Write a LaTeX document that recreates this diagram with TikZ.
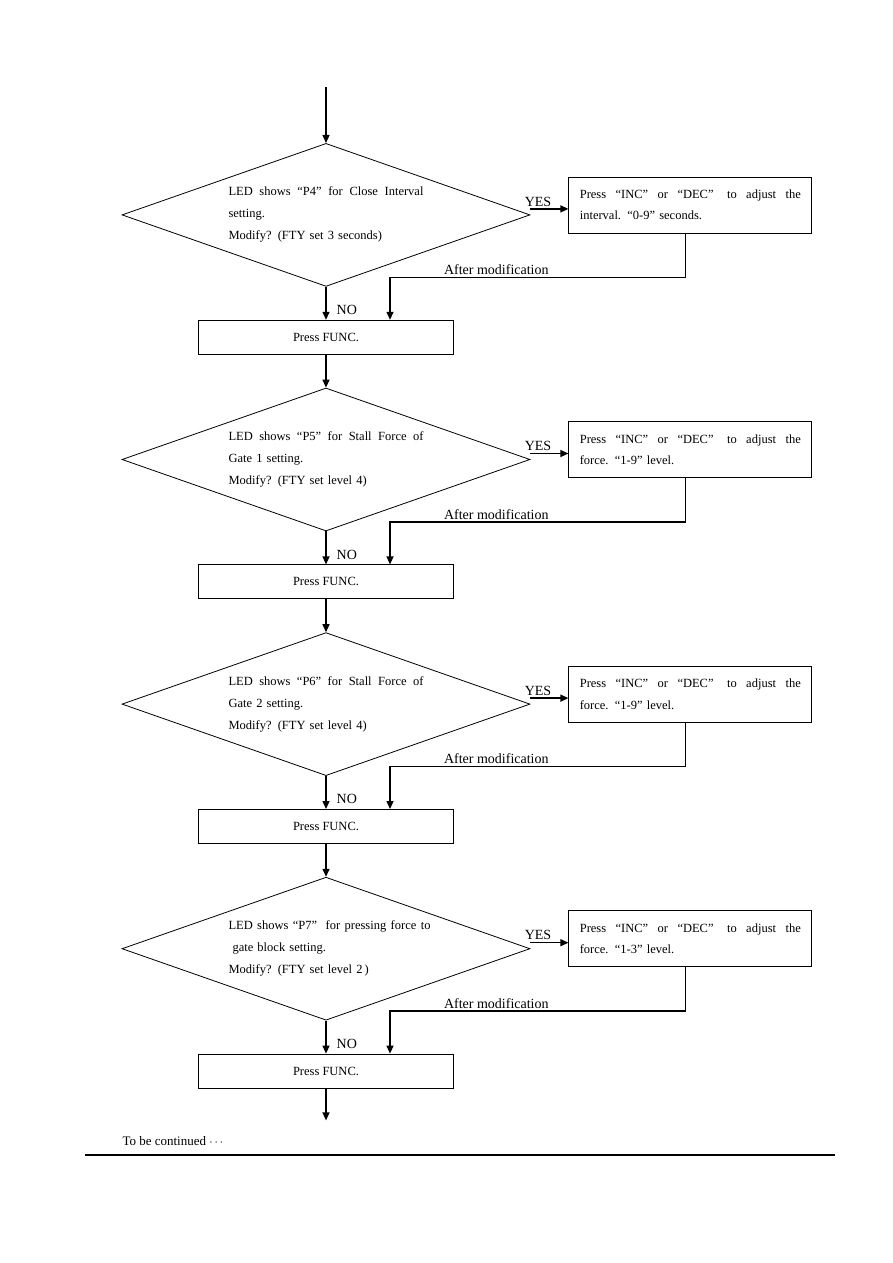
\documentclass[tikz,border=0pt]{standalone}
\usepackage{fontspec}
\setmainfont{Liberation Serif}
\usepackage{tikz}
\usetikzlibrary{
  shapes.geometric,
  arrows.meta,
  positioning, calc
}
% one line spread out to a given width
\newcommand{\fullline}[2]{\hbox to #1{\spaceskip=0.25em plus 1fil\xspaceskip=0.25em plus 1fil\relax #2}}
\tikzset{
  % Decision diamond
  decision/.style={
    diamond, draw=black, line width=0.8pt,
    aspect=2.85, inner sep=0pt,
    minimum width=408pt, minimum height=143pt,
    text width=195pt, align=left,
    font=\fontsize{12.5}{22}\selectfont
  },
  % Adjust box on the right
  adjbox/.style={
    rectangle, draw=black, line width=0.8pt,
    minimum width=243pt, minimum height=56pt,
    text width=221pt, align=left, inner sep=0pt,
    font=\fontsize{12.5}{21.5}\selectfont
  },
  % Press FUNC box
  funcbox/.style={
    rectangle, draw=black, line width=0.8pt,
    minimum width=255pt, minimum height=34pt,
    font=\fontsize{12.5}{14}\selectfont
  },
  % Arrows
  arr/.style={-{Triangle[length=8pt,width=7pt]}, line width=1.3pt},
  % Edge label
  flabel/.style={font=\fontsize{14}{16}\selectfont, inner sep=2pt},
}

\begin{document}
\begin{tikzpicture}[x=1pt, y=1pt]

  \useasboundingbox (0,0) rectangle (893,-1263);

  \coordinate (start) at (326,-87);

  \node[decision, below=56pt of start] (d1)
    {\fullline{195pt}{LED shows “P4” for Close Interval}\\setting.\\Modify? (FTY set 3 seconds)};

  \node[adjbox, right=38pt of d1, yshift=10pt] (b1)
    {\fullline{221pt}{Press “INC” or “DEC”\hspace{4pt} to adjust the}\\interval. “0-9” seconds.};

  \node[funcbox, below=33pt of d1] (f1) {Press FUNC.};

  \node[decision, below=33pt of f1] (d2)
    {\fullline{195pt}{LED shows “P5” for Stall Force of}\\Gate 1 setting.\\Modify? (FTY set level 4)};

  \node[adjbox, right=38pt of d2, yshift=10pt] (b2)
    {\fullline{221pt}{Press “INC” or “DEC”\hspace{4pt} to adjust the}\\force. “1-9” level.};

  \node[funcbox, below=33pt of d2] (f2) {Press FUNC.};

  \node[decision, below=33pt of f2] (d3)
    {\fullline{195pt}{LED shows “P6” for Stall Force of}\\Gate 2 setting.\\Modify? (FTY set level 4)};

  \node[adjbox, right=38pt of d3, yshift=10pt] (b3)
    {\fullline{221pt}{Press “INC” or “DEC”\hspace{4pt} to adjust the}\\force. “1-9” level.};

  \node[funcbox, below=33pt of d3] (f3) {Press FUNC.};

  \node[decision, below=33pt of f3] (d4)
    {\fullline{202pt}{LED shows “P7”\hspace{4pt} for pressing force to}\\\hspace*{4pt}gate block setting.\\Modify? (FTY set level 2\,)};

  \node[adjbox, right=38pt of d4, yshift=10pt] (b4)
    {\fullline{221pt}{Press “INC” or “DEC”\hspace{4pt} to adjust the}\\force. “1-3” level.};

  \node[funcbox, below=33pt of d4] (f4) {Press FUNC.};

  \coordinate[below=32pt of f4] (stop);

  \node[anchor=west, font=\fontsize{13}{15}\selectfont] (cont) at (119,-1141)
    {To be continued $\cdots$};

  \draw[line width=2.5pt] (85,-1155) -- (835,-1155);

  %% Arrows
  \draw[arr] (start) -- (d1);
  \draw[arr] ([yshift=6pt]d1.east) -- node[flabel, above, pos=0.2]{YES} ([yshift=6pt]d1.east -| b1.west);
  \draw[arr] (d1) -- node[flabel, right, pos=0.7, xshift=8pt]{NO} (f1);
  \draw[arr] ([xshift=-5pt]b1.south) -- ++(0,-44) -| node[flabel, above, pos=0.32]{After modification} ([xshift=64pt]f1.north);
  \draw[arr] (f1) -- (d2);

  \draw[arr] ([yshift=6pt]d2.east) -- node[flabel, above, pos=0.2]{YES} ([yshift=6pt]d2.east -| b2.west);
  \draw[arr] (d2) -- node[flabel, right, pos=0.7, xshift=8pt]{NO} (f2);
  \draw[arr] ([xshift=-5pt]b2.south) -- ++(0,-44) -| node[flabel, above, pos=0.32]{After modification} ([xshift=64pt]f2.north);
  \draw[arr] (f2) -- (d3);

  \draw[arr] ([yshift=6pt]d3.east) -- node[flabel, above, pos=0.2]{YES} ([yshift=6pt]d3.east -| b3.west);
  \draw[arr] (d3) -- node[flabel, right, pos=0.7, xshift=8pt]{NO} (f3);
  \draw[arr] ([xshift=-5pt]b3.south) -- ++(0,-44) -| node[flabel, above, pos=0.32]{After modification} ([xshift=64pt]f3.north);
  \draw[arr] (f3) -- (d4);

  \draw[arr] ([yshift=6pt]d4.east) -- node[flabel, above, pos=0.2]{YES} ([yshift=6pt]d4.east -| b4.west);
  \draw[arr] (d4) -- node[flabel, right, pos=0.7, xshift=8pt]{NO} (f4);
  \draw[arr] ([xshift=-5pt]b4.south) -- ++(0,-44) -| node[flabel, above, pos=0.32]{After modification} ([xshift=64pt]f4.north);
  \draw[arr] (f4) -- (stop);

\end{tikzpicture}
\end{document}
